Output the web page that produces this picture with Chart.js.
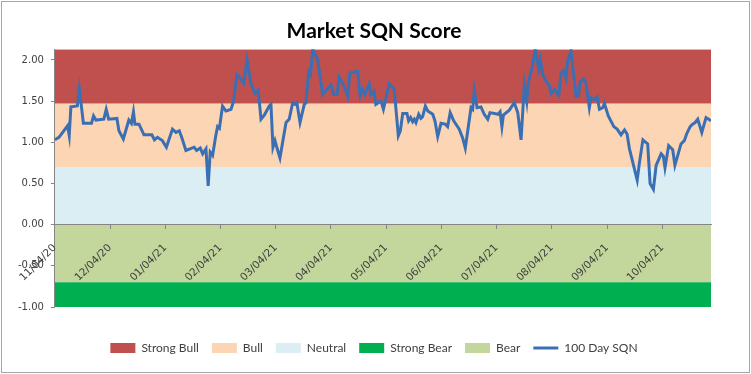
<!DOCTYPE html>
<html>
<head>
<meta charset="utf-8">
<title>Market SQN Score</title>
<script src="https://cdn.jsdelivr.net/npm/chart.js@4.4.1/dist/chart.umd.min.js"></script>
<style>
  html, body { margin: 0; padding: 0; background: #fff; }
</style>
</head>
<body>
<canvas id="sqn" width="751" height="374"></canvas>
<script>
// x axis: days since 11/04/20, one tick per month
const tickDays = [0, 30, 60, 90, 120, 150, 180, 210, 240, 270, 300, 330];
const tickLabels = ["11/04/20", "12/04/20", "01/04/21", "02/04/21", "03/04/21", "04/04/21",
  "05/04/21", "06/04/21", "07/04/21", "08/04/21", "09/04/21", "10/04/21"];
const lastDay = 356.5;

// 100 day SQN
const sqnDays = [
  0, 2.2, 6.9, 7.8, 8.7, 12.2, 13.3, 15.5, 19.9, 21.0, 22.3, 26.6, 27.9, 29.2, 33.7, 34.8,
  37.2, 40.2, 41.6, 42.7, 43.5, 45.7, 48.4, 52.7, 54.1, 55.7, 58.4, 60.6, 63.9, 65.8, 67.6, 68.9,
  71.2, 75.7, 77.0, 79.0, 80.3, 82.1, 83.3, 84.4, 85.7, 87.5, 88.4, 89.4, 91.1, 92.9, 95.7, 97.1,
  98.9, 100.7, 102.6, 104.4, 106.5, 108.7, 110.5, 112.0, 113.8, 116.5, 117.4, 118.5, 119.6, 120.7, 122.3, 125.6,
  127.3, 129.2, 130.4, 131.5, 133.2, 135.5, 136.4, 137.9, 138.9, 140.1, 142.8, 145.5, 150.0, 151.5, 153.3, 154.5,
  157.2, 159.1, 160.3, 164.5, 165.9, 167.2, 168.5, 170.8, 171.7, 173.5, 174.4, 176.3, 177.2, 178.5, 181.7, 184.4,
  186.6, 187.7, 189.0, 191.3, 192.2, 193.3, 194.4, 195.3, 196.2, 197.7, 198.9, 199.8, 201.3, 202.6, 205.3, 206.5,
  208.0, 209.8, 212.1, 213.4, 214.8, 216.7, 219.7, 221.6, 223.0, 226.1, 227.0, 227.9, 229.4, 231.5, 233.3, 235.2,
  236.4, 240.9, 241.9, 242.9, 243.7, 246.9, 249.6, 251.5, 253.3, 255.1, 256.4, 257.2, 259.6, 261.0, 262.9, 263.8,
  265.1, 266.9, 268.7, 269.6, 271.4, 273.8, 275.0, 276.5, 277.7, 278.6, 280.4, 283.2, 284.4, 285.5, 287.3, 288.6,
  290.4, 291.3, 293.1, 294.6, 295.9, 297.7, 298.6, 300.7, 303.7, 305.5, 307.6, 309.5, 310.9, 312.2, 316.4, 317.6,
  319.5, 322.1, 323.4, 325.2, 326.7, 329.4, 330.6, 331.5, 333.5, 335.7, 336.9, 340.2, 342.0, 343.4, 345.2, 346.5,
  347.9, 349.3, 351.5, 353.8, 356.5
];
const sqnValues = [
  1.03, 1.06, 1.20, 1.08, 1.43, 1.44, 1.65, 1.23, 1.23, 1.32, 1.27, 1.28, 1.40, 1.28, 1.29, 1.14,
  1.04, 1.27, 1.23, 1.37, 1.22, 1.22, 1.09, 1.09, 1.03, 1.06, 1.02, 0.94, 1.16, 1.12, 1.14, 1.06,
  0.90, 0.94, 0.90, 0.93, 0.86, 0.92, 0.47, 0.88, 0.84, 1.09, 1.19, 1.17, 1.44, 1.38, 1.40, 1.50,
  1.82, 1.78, 1.72, 2.00, 1.72, 1.59, 1.63, 1.28, 1.33, 1.44, 1.46, 0.94, 1.02, 0.93, 0.81, 1.24,
  1.28, 1.48, 1.46, 1.48, 1.24, 1.46, 1.48, 1.86, 1.82, 2.13, 2.00, 1.58, 1.70, 1.58, 1.58, 1.79,
  1.68, 1.56, 1.84, 1.86, 1.56, 1.64, 1.58, 1.71, 1.58, 1.62, 1.46, 1.49, 1.50, 1.40, 1.71, 1.64,
  1.08, 1.14, 1.35, 1.35, 1.26, 1.30, 1.25, 1.28, 1.24, 1.34, 1.29, 1.31, 1.44, 1.38, 1.34, 1.26,
  1.07, 1.23, 1.22, 1.19, 1.36, 1.26, 1.16, 1.05, 0.93, 1.42, 1.40, 1.63, 1.42, 1.43, 1.34, 1.28,
  1.36, 1.34, 1.37, 1.19, 1.33, 1.39, 1.48, 1.36, 1.03, 1.70, 1.50, 1.72, 1.94, 2.13, 1.89, 2.00,
  1.82, 1.74, 1.69, 1.59, 1.64, 1.57, 1.84, 1.87, 1.78, 1.98, 2.11, 1.56, 1.56, 1.74, 1.77, 1.72,
  1.42, 1.54, 1.52, 1.55, 1.40, 1.42, 1.47, 1.32, 1.19, 1.16, 1.09, 1.15, 1.10, 0.92, 0.54, 0.75,
  1.03, 0.98, 0.50, 0.43, 0.72, 0.86, 0.83, 0.69, 0.96, 0.91, 0.72, 0.98, 1.02, 1.11, 1.19, 1.22,
  1.24, 1.28, 1.12, 1.30, 1.26
];

// background bands (legend order as in the original)
const bandNames = ["Strong Bull", "Bull", "Neutral", "Strong Bear", "Bear"];
const bandTops = [2.13, 1.47, 0.70, -0.70, 0];
const bandBottoms = [1.47, 0.70, 0, -1.00, -0.70];
const bandColors = ["#c0504d", "#fcd5b5", "#dbeef4", "#00b050", "#c3d69b"];

const lineColor = "#3b6fb4";
const axisColor = "#868686";
const textColor = "#404040";

const datasets = bandNames.map((name, i) => ({
  label: name,
  isBand: true,
  data: [{ x: 0, y: bandTops[i] }, { x: lastDay, y: bandTops[i] }],
  fill: { value: bandBottoms[i] },
  backgroundColor: bandColors[i],
  borderColor: bandColors[i],
  borderWidth: 0,
  pointRadius: 0,
}));
datasets.push({
  label: "100 Day SQN",
  data: sqnDays.map((d, i) => ({ x: d, y: sqnValues[i] })),
  borderColor: lineColor,
  backgroundColor: lineColor,
  borderWidth: 3,
  pointRadius: 0,
  fill: false,
  order: -1, // keep the line above the bands
});

//frame round the whole chart
const framePlugin = {
  id: "frame",
  afterDraw(chart) {
    const ctx = chart.ctx;
    ctx.save();
    ctx.strokeStyle = "#a6a6a6";
    ctx.lineWidth = 1;
    ctx.strokeRect(1.5, 1.5, chart.width - 3, chart.height - 3);
    ctx.restore();
  },
};

new Chart(document.getElementById("sqn"), {
  type: "line",
  data: { datasets: datasets },
  plugins: [framePlugin],
  options: {
    responsive: false,
    animation: false,
    devicePixelRatio: 1,
    layout: { padding: { left: 11, right: 14, top: 0, bottom: 10 } },
    plugins: {
      tooltip: { enabled: false },
      title: {
        display: true,
        text: "Market SQN Score",
        color: "#000",
        font: { family: "Lato", size: 21, weight: "bold" },
        padding: { top: 19, bottom: 5 },
      },
      legend: {
        position: "bottom",
        // empty legend title only pushes the legend row down
        title: { display: true, text: "", font: { size: 10, lineHeight: 1 }, padding: { top: 12, bottom: 0 } },
        labels: {
          usePointStyle: true,
          pointStyleWidth: 25,
          boxHeight: 10,
          padding: 13,
          color: textColor,
          font: { family: "Lato", size: 12 },
          generateLabels: (chart) => chart.data.datasets.map((ds, i) => ({
            text: ds.label,
            fillStyle: ds.isBand ? ds.backgroundColor : "rgba(0,0,0,0)",
            strokeStyle: ds.borderColor,
            lineWidth: ds.isBand ? 0 : 3,
            pointStyle: ds.isBand ? "rect" : "line",
            fontColor: textColor,
            hidden: false,
            datasetIndex: i,
          })),
        },
      },
    },
    scales: {
      x: {
        type: "linear",
        position: { y: 0 },
        min: 0,
        max: lastDay,
        afterBuildTicks: (axis) => {
          axis.ticks = tickDays.map((d) => ({ value: d }));
        },
        ticks: {
          z: 1, // labels sit on top of the bands
          autoSkip: false,
          minRotation: 45,
          maxRotation: 45,
          padding: 13,
          color: textColor,
          font: { family: "DejaVu Sans", size: 10.5 },
          callback: (value, index) => tickLabels[index],
        },
        grid: { z: 1, display: true, drawOnChartArea: false, drawTicks: true, tickLength: 4, color: axisColor },
        border: { z: 1, display: true, color: axisColor },
      },
      y: {
        min: -1,
        max: 2.13,
        ticks: {
          stepSize: 0.5,
          includeBounds: false,
          padding: 7,
          color: textColor,
          font: { family: "DejaVu Sans", size: 10 },
          callback: (value) => value.toFixed(2),
        },
        grid: { display: true, drawOnChartArea: false, drawTicks: true, tickLength: 4, color: axisColor },
        border: { display: true, color: axisColor },
      },
      // empty right-hand axis, only keeps the plot clear of the right edge
      yRight: {
        position: "right",
        display: true,
        ticks: { display: false },
        grid: { display: false },
        border: { display: false },
        afterFit: (axis) => { axis.width = 26; },
      },
    },
  },
});
</script>
</body>
</html>
